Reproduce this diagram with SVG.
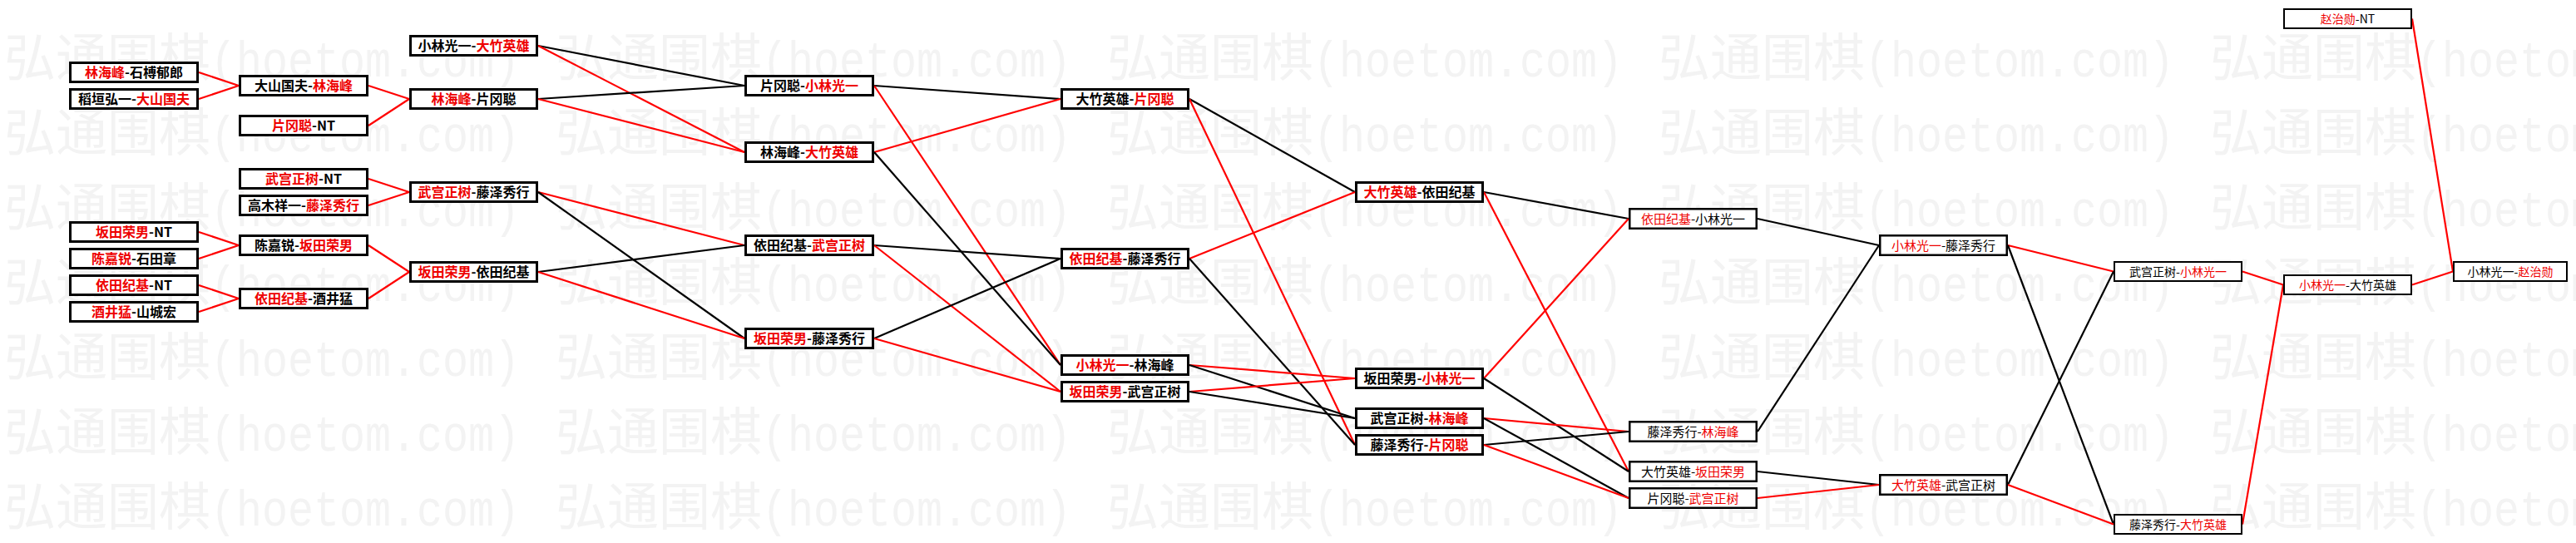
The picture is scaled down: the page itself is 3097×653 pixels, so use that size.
<svg xmlns="http://www.w3.org/2000/svg" xmlns:xlink="http://www.w3.org/1999/xlink" width="3097" height="653" viewBox="0 0 3097 653">
<style>
.bg{fill:#ffffff}
.wmc{font-family:"Noto Sans CJK SC","Liberation Sans",sans-serif;font-size:62px;fill:#f3f3f3}
.wml{font-family:"Liberation Mono","Noto Sans CJK SC",monospace;font-size:62px;fill:#f3f3f3}
.b3{fill:#fff;stroke:#000;stroke-width:3}
.b25{fill:#fff;stroke:#000;stroke-width:2.5}
.b2{fill:#fff;stroke:#000;stroke-width:2}
.t{font-family:"Noto Sans CJK SC","Liberation Sans",sans-serif;font-size:16px;fill:#000;text-anchor:middle;font-weight:bold}
.t15{font-family:"Noto Sans CJK SC","Liberation Sans",sans-serif;font-size:15px;fill:#000;text-anchor:middle}
.t14{font-family:"Noto Sans CJK SC","Liberation Sans",sans-serif;font-size:14px;fill:#000;text-anchor:middle}
.r{fill:#ee0000}
.lr{stroke:#ff0000;stroke-width:2.2;fill:none}
.lk{stroke:#000000;stroke-width:2.2;fill:none}
</style>
<defs>
<g id="wm"><text class="wmc" x="0" y="0">弘通围棋</text><text class="wml" x="248" y="0" textLength="372" lengthAdjust="spacingAndGlyphs">(hoetom.com)</text></g>
</defs>
<rect class="bg" x="0" y="0" width="3097" height="653"/>
<g id="watermark">
<use xlink:href="#wm" x="5" y="92"/><use xlink:href="#wm" x="668" y="92"/><use xlink:href="#wm" x="1331" y="92"/><use xlink:href="#wm" x="1994" y="92"/><use xlink:href="#wm" x="2657" y="92"/>
<use xlink:href="#wm" x="5" y="182"/><use xlink:href="#wm" x="668" y="182"/><use xlink:href="#wm" x="1331" y="182"/><use xlink:href="#wm" x="1994" y="182"/><use xlink:href="#wm" x="2657" y="182"/>
<use xlink:href="#wm" x="5" y="272"/><use xlink:href="#wm" x="668" y="272"/><use xlink:href="#wm" x="1331" y="272"/><use xlink:href="#wm" x="1994" y="272"/><use xlink:href="#wm" x="2657" y="272"/>
<use xlink:href="#wm" x="5" y="362"/><use xlink:href="#wm" x="668" y="362"/><use xlink:href="#wm" x="1331" y="362"/><use xlink:href="#wm" x="1994" y="362"/><use xlink:href="#wm" x="2657" y="362"/>
<use xlink:href="#wm" x="5" y="452"/><use xlink:href="#wm" x="668" y="452"/><use xlink:href="#wm" x="1331" y="452"/><use xlink:href="#wm" x="1994" y="452"/><use xlink:href="#wm" x="2657" y="452"/>
<use xlink:href="#wm" x="5" y="542"/><use xlink:href="#wm" x="668" y="542"/><use xlink:href="#wm" x="1331" y="542"/><use xlink:href="#wm" x="1994" y="542"/><use xlink:href="#wm" x="2657" y="542"/>
<use xlink:href="#wm" x="5" y="632"/><use xlink:href="#wm" x="668" y="632"/><use xlink:href="#wm" x="1331" y="632"/><use xlink:href="#wm" x="1994" y="632"/><use xlink:href="#wm" x="2657" y="632"/>
</g>
<g id="connectors">
<line class="lr" x1="239" y1="87" x2="287" y2="103"/>
<line class="lr" x1="239" y1="119" x2="287" y2="103"/>
<line class="lr" x1="239" y1="279" x2="287" y2="295"/>
<line class="lr" x1="239" y1="311" x2="287" y2="295"/>
<line class="lr" x1="239" y1="343" x2="287" y2="359"/>
<line class="lr" x1="239" y1="375" x2="287" y2="359"/>
<line class="lr" x1="443" y1="103" x2="492" y2="119"/>
<line class="lr" x1="443" y1="151" x2="492" y2="119"/>
<line class="lr" x1="443" y1="215" x2="492" y2="231"/>
<line class="lr" x1="443" y1="247" x2="492" y2="231"/>
<line class="lr" x1="443" y1="295" x2="492" y2="327"/>
<line class="lr" x1="443" y1="359" x2="492" y2="327"/>
<line class="lk" x1="647" y1="55" x2="895" y2="103"/>
<line class="lr" x1="647" y1="55" x2="895" y2="183"/>
<line class="lk" x1="647" y1="119" x2="895" y2="103"/>
<line class="lr" x1="647" y1="119" x2="895" y2="183"/>
<line class="lr" x1="647" y1="231" x2="895" y2="295"/>
<line class="lk" x1="647" y1="231" x2="895" y2="407"/>
<line class="lk" x1="647" y1="327" x2="895" y2="295"/>
<line class="lr" x1="647" y1="327" x2="895" y2="407"/>
<line class="lk" x1="1051" y1="103" x2="1275" y2="119"/>
<line class="lr" x1="1051" y1="103" x2="1275" y2="439"/>
<line class="lr" x1="1051" y1="183" x2="1275" y2="119"/>
<line class="lk" x1="1051" y1="183" x2="1275" y2="439"/>
<line class="lk" x1="1051" y1="295" x2="1275" y2="311"/>
<line class="lr" x1="1051" y1="295" x2="1275" y2="471"/>
<line class="lk" x1="1051" y1="407" x2="1275" y2="311"/>
<line class="lr" x1="1051" y1="407" x2="1275" y2="471"/>
<line class="lk" x1="1430" y1="119" x2="1629" y2="231"/>
<line class="lr" x1="1430" y1="119" x2="1629" y2="535"/>
<line class="lr" x1="1430" y1="311" x2="1629" y2="231"/>
<line class="lk" x1="1430" y1="311" x2="1629" y2="535"/>
<line class="lr" x1="1430" y1="439" x2="1629" y2="455"/>
<line class="lk" x1="1430" y1="439" x2="1629" y2="503"/>
<line class="lr" x1="1430" y1="471" x2="1629" y2="455"/>
<line class="lk" x1="1430" y1="471" x2="1629" y2="503"/>
<line class="lk" x1="1784" y1="231" x2="1958" y2="263"/>
<line class="lr" x1="1784" y1="231" x2="1958" y2="567"/>
<line class="lr" x1="1784" y1="455" x2="1958" y2="263"/>
<line class="lk" x1="1784" y1="455" x2="1958" y2="567"/>
<line class="lr" x1="1784" y1="503" x2="1958" y2="519"/>
<line class="lk" x1="1784" y1="503" x2="1958" y2="599"/>
<line class="lk" x1="1784" y1="535" x2="1958" y2="519"/>
<line class="lr" x1="1784" y1="535" x2="1958" y2="599"/>
<line class="lk" x1="2113" y1="263" x2="2259" y2="295"/>
<line class="lk" x1="2113" y1="519" x2="2259" y2="295"/>
<line class="lk" x1="2113" y1="567" x2="2259" y2="583"/>
<line class="lr" x1="2113" y1="599" x2="2259" y2="583"/>
<line class="lr" x1="2414" y1="295" x2="2541" y2="326.5"/>
<line class="lk" x1="2414" y1="295" x2="2541" y2="630.5"/>
<line class="lk" x1="2414" y1="583" x2="2541" y2="326.5"/>
<line class="lr" x1="2414" y1="583" x2="2541" y2="630.5"/>
<line class="lr" x1="2696" y1="326.5" x2="2745" y2="342.5"/>
<line class="lr" x1="2696" y1="630.5" x2="2745" y2="342.5"/>
<line class="lr" x1="2900" y1="342.5" x2="2949" y2="326.5"/>
<line class="lr" x1="2900" y1="22.5" x2="2949" y2="326.5"/>
</g>
<g id="A1"><rect class="b3" x="84.5" y="75.5" width="153" height="23"/><text class="t" x="161" y="93"><tspan class="r">林海峰</tspan>-石榑郁郎</text></g>
<g id="A2"><rect class="b3" x="84.5" y="107.5" width="153" height="23"/><text class="t" x="161" y="125">稻垣弘一-<tspan class="r">大山国夫</tspan></text></g>
<g id="A3"><rect class="b3" x="84.5" y="267.5" width="153" height="23"/><text class="t" x="161" y="285"><tspan class="r">坂田荣男</tspan>-NT</text></g>
<g id="A4"><rect class="b3" x="84.5" y="299.5" width="153" height="23"/><text class="t" x="161" y="317"><tspan class="r">陈嘉锐</tspan>-石田章</text></g>
<g id="A5"><rect class="b3" x="84.5" y="331.5" width="153" height="23"/><text class="t" x="161" y="349"><tspan class="r">依田纪基</tspan>-NT</text></g>
<g id="A6"><rect class="b3" x="84.5" y="363.5" width="153" height="23"/><text class="t" x="161" y="381"><tspan class="r">酒井猛</tspan>-山城宏</text></g>
<g id="B1"><rect class="b3" x="288.5" y="91.5" width="153" height="23"/><text class="t" x="365" y="109">大山国夫-<tspan class="r">林海峰</tspan></text></g>
<g id="B2"><rect class="b3" x="288.5" y="139.5" width="153" height="23"/><text class="t" x="365" y="157"><tspan class="r">片冈聪</tspan>-NT</text></g>
<g id="B3"><rect class="b3" x="288.5" y="203.5" width="153" height="23"/><text class="t" x="365" y="221"><tspan class="r">武宫正树</tspan>-NT</text></g>
<g id="B4"><rect class="b3" x="288.5" y="235.5" width="153" height="23"/><text class="t" x="365" y="253">高木祥一-<tspan class="r">藤泽秀行</tspan></text></g>
<g id="B5"><rect class="b3" x="288.5" y="283.5" width="153" height="23"/><text class="t" x="365" y="301">陈嘉锐-<tspan class="r">坂田荣男</tspan></text></g>
<g id="B6"><rect class="b3" x="288.5" y="347.5" width="153" height="23"/><text class="t" x="365" y="365"><tspan class="r">依田纪基</tspan>-酒井猛</text></g>
<g id="C1"><rect class="b3" x="493.5" y="43.5" width="152" height="23"/><text class="t" x="569.5" y="61">小林光一-<tspan class="r">大竹英雄</tspan></text></g>
<g id="C2"><rect class="b3" x="493.5" y="107.5" width="152" height="23"/><text class="t" x="569.5" y="125"><tspan class="r">林海峰</tspan>-片冈聪</text></g>
<g id="C3"><rect class="b3" x="493.5" y="219.5" width="152" height="23"/><text class="t" x="569.5" y="237"><tspan class="r">武宫正树</tspan>-藤泽秀行</text></g>
<g id="C4"><rect class="b3" x="493.5" y="315.5" width="152" height="23"/><text class="t" x="569.5" y="333"><tspan class="r">坂田荣男</tspan>-依田纪基</text></g>
<g id="D1"><rect class="b3" x="896.5" y="91.5" width="153" height="23"/><text class="t" x="973" y="109">片冈聪-<tspan class="r">小林光一</tspan></text></g>
<g id="D2"><rect class="b3" x="896.5" y="171.5" width="153" height="23"/><text class="t" x="973" y="189">林海峰-<tspan class="r">大竹英雄</tspan></text></g>
<g id="D3"><rect class="b3" x="896.5" y="283.5" width="153" height="23"/><text class="t" x="973" y="301">依田纪基-<tspan class="r">武宫正树</tspan></text></g>
<g id="D4"><rect class="b3" x="896.5" y="395.5" width="153" height="23"/><text class="t" x="973" y="413"><tspan class="r">坂田荣男</tspan>-藤泽秀行</text></g>
<g id="E1"><rect class="b3" x="1276.5" y="107.5" width="152" height="23"/><text class="t" x="1352.5" y="125">大竹英雄-<tspan class="r">片冈聪</tspan></text></g>
<g id="E2"><rect class="b3" x="1276.5" y="299.5" width="152" height="23"/><text class="t" x="1352.5" y="317"><tspan class="r">依田纪基</tspan>-藤泽秀行</text></g>
<g id="E3"><rect class="b3" x="1276.5" y="427.5" width="152" height="23"/><text class="t" x="1352.5" y="445"><tspan class="r">小林光一</tspan>-林海峰</text></g>
<g id="E4"><rect class="b3" x="1276.5" y="459.5" width="152" height="23"/><text class="t" x="1352.5" y="477"><tspan class="r">坂田荣男</tspan>-武宫正树</text></g>
<g id="F1"><rect class="b3" x="1630.5" y="219.5" width="152" height="23"/><text class="t" x="1706.5" y="237"><tspan class="r">大竹英雄</tspan>-依田纪基</text></g>
<g id="F2"><rect class="b3" x="1630.5" y="443.5" width="152" height="23"/><text class="t" x="1706.5" y="461">坂田荣男-<tspan class="r">小林光一</tspan></text></g>
<g id="F3"><rect class="b3" x="1630.5" y="491.5" width="152" height="23"/><text class="t" x="1706.5" y="509">武宫正树-<tspan class="r">林海峰</tspan></text></g>
<g id="F4"><rect class="b3" x="1630.5" y="523.5" width="152" height="23"/><text class="t" x="1706.5" y="541">藤泽秀行-<tspan class="r">片冈聪</tspan></text></g>
<g id="G1"><rect class="b25" x="1959.25" y="251.25" width="152.5" height="23.5"/><text class="t15" x="2035.5" y="268.5"><tspan class="r">依田纪基</tspan>-小林光一</text></g>
<g id="G2"><rect class="b25" x="1959.25" y="507.25" width="152.5" height="23.5"/><text class="t15" x="2035.5" y="524.5">藤泽秀行-<tspan class="r">林海峰</tspan></text></g>
<g id="G3"><rect class="b25" x="1959.25" y="555.25" width="152.5" height="23.5"/><text class="t15" x="2035.5" y="572.5">大竹英雄-<tspan class="r">坂田荣男</tspan></text></g>
<g id="G4"><rect class="b25" x="1959.25" y="587.25" width="152.5" height="23.5"/><text class="t15" x="2035.5" y="604.5">片冈聪-<tspan class="r">武宫正树</tspan></text></g>
<g id="H1"><rect class="b25" x="2260.25" y="283.25" width="152.5" height="23.5"/><text class="t15" x="2336.5" y="300.5"><tspan class="r">小林光一</tspan>-藤泽秀行</text></g>
<g id="H2"><rect class="b25" x="2260.25" y="571.25" width="152.5" height="23.5"/><text class="t15" x="2336.5" y="588.5"><tspan class="r">大竹英雄</tspan>-武宫正树</text></g>
<g id="I1"><rect class="b2" x="2542" y="315" width="153" height="23"/><text class="t14" x="2618.5" y="331.5">武宫正树-<tspan class="r">小林光一</tspan></text></g>
<g id="I2"><rect class="b2" x="2542" y="619" width="153" height="23"/><text class="t14" x="2618.5" y="635.5">藤泽秀行-<tspan class="r">大竹英雄</tspan></text></g>
<g id="J1"><rect class="b2" x="2746" y="11" width="153" height="23"/><text class="t14" x="2822.5" y="27.5"><tspan class="r">赵治勋</tspan>-NT</text></g>
<g id="J2"><rect class="b2" x="2746" y="331" width="153" height="23"/><text class="t14" x="2822.5" y="347.5"><tspan class="r">小林光一</tspan>-大竹英雄</text></g>
<g id="K1"><rect class="b2" x="2950" y="315" width="136" height="23"/><text class="t14" x="3018" y="331.5">小林光一-<tspan class="r">赵治勋</tspan></text></g>
</svg>
